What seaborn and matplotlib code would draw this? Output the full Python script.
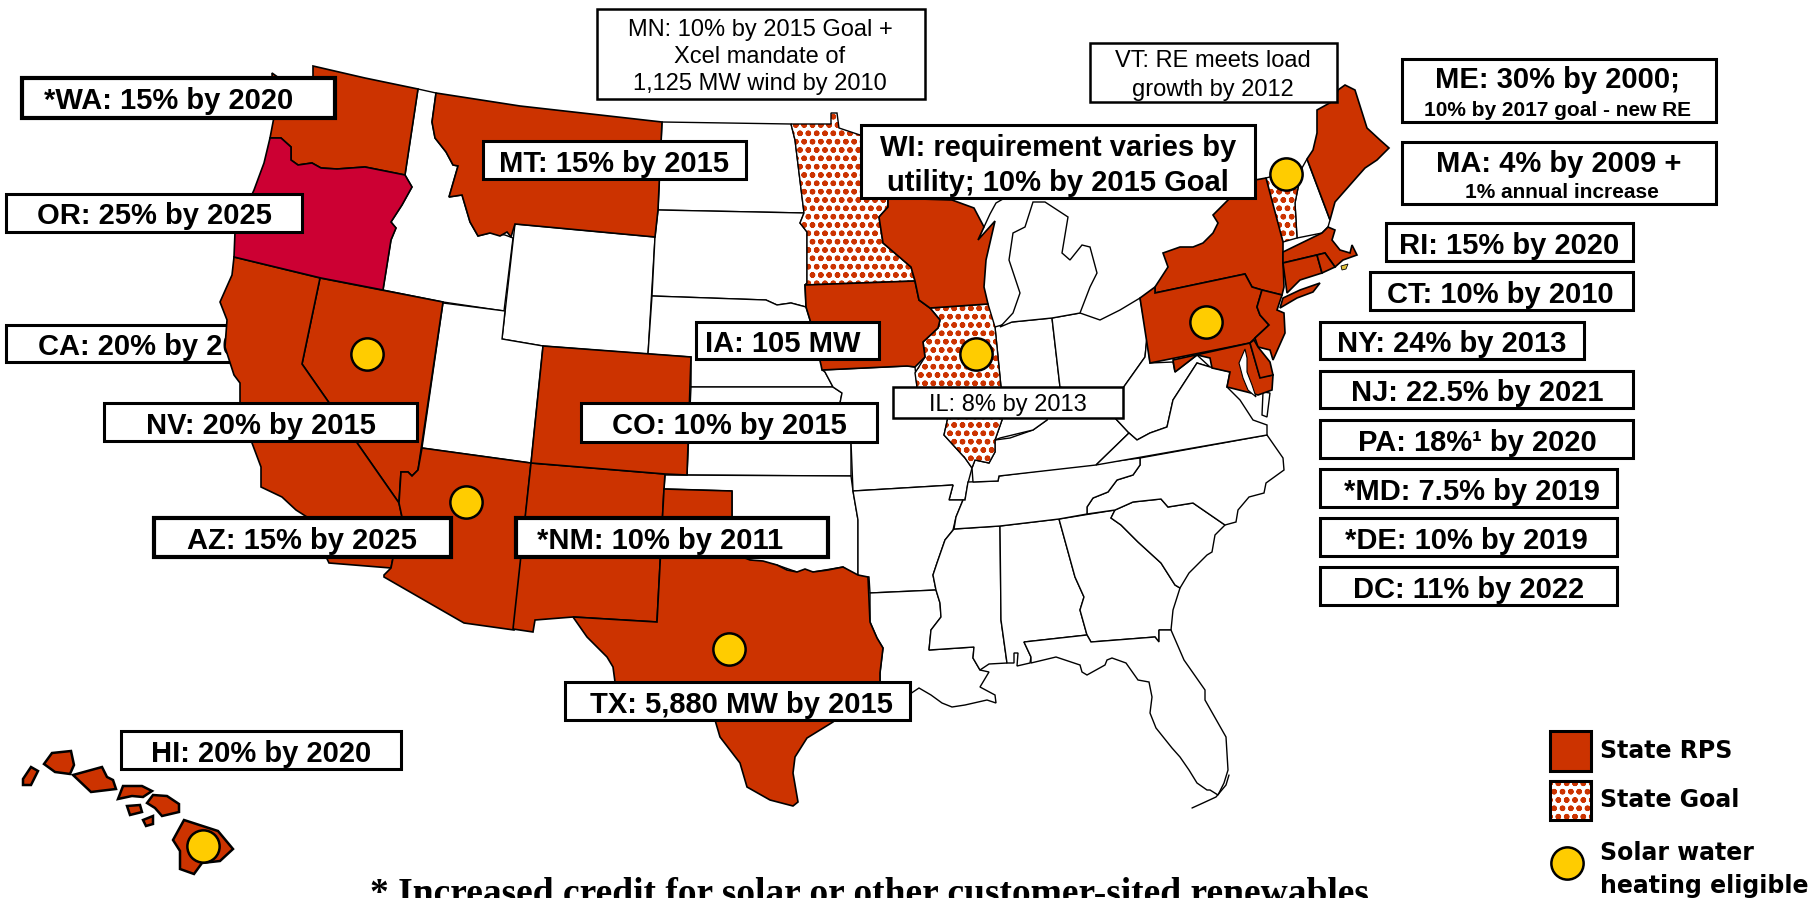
import matplotlib
matplotlib.use("Agg")
import matplotlib.pyplot as plt
import seaborn as sns

RED = "#CC3300"
CRIMSON = "#CC0033"
YELLOW = "#FFCC00"

# state outlines (pixels of the 1820x898 image)
WA = [(313,66),(365,78),(418,89),(405,175),(365,167),(337,169),(321,168),(312,163),(298,165),(291,160),(291,147),(281,138),(270,138),(274,117),(272,73),(279,78),(306,78),(313,77)]
OR = [(270,138),(281,138),(291,147),(291,160),(298,165),(312,163),(321,168),(337,169),(365,167),(405,175),(412,187),(402,205),(391,222),(396,228),(391,240),(383,290),(321,278),(234,257),(235,232),(254,190),(264,163)]
ID = [(418,89),(436,93),(432,122),(435,138),(446,152),(453,165),(458,166),(449,197),(462,195),(470,222),(478,236),(490,233),(505,235),(513,238),(504,311),(443,302),(383,290),(391,240),(396,228),(391,222),(402,205),(412,187),(405,175)]
MT = [(436,93),(520,106),(600,115),(662,122),(658,210),(655,237),(515,224),(511,237),(507,232),(500,236),(490,233),(478,236),(470,222),(462,195),(449,197),(458,166),(453,165),(446,152),(435,138),(432,122)]
WY = [(515,224),(655,237),(648,354),(543,346),(502,339)]
NV = [(320,278),(443,302),(418,470),(412,476),(408,472),(401,472),(399,503),(302,364)]
CA = [(234,257),(320,278),(302,364),(399,503),(402,517),(393,558),(391,568),(329,563),(307,517),(296,510),(282,497),(261,487),(261,467),(252,443),(240,403),(240,383),(234,375),(225,347),(227,320),(220,302),(232,275)]
UT = [(443,303),(505,311),(502,339),(543,346),(531,463),(422,448)]
AZ = [(422,448),(531,463),(514,630),(464,623),(384,577),(384,575),(391,568),(393,558),(402,517),(399,503),(401,472),(408,472),(412,476),(418,470)]
NM = [(531,463),(665,474),(664,489),(657,622),(573,617),(535,620),(533,632),(513,629)]
CO = [(543,346),(691,357),(687,475),(665,474),(531,463)]
TX = [(664,489),(732,491),(732,553),(750,560),(763,561),(777,565),(787,570),(797,572),(805,569),(813,572),(828,570),(843,567),(858,575),(868,577),(870,622),(877,638),(883,648),(880,673),(880,682),(833,722),(807,738),(795,757),(793,773),(798,802),(793,806),(770,800),(747,787),(740,763),(720,737),(715,720),(615,682),(613,667),(607,657),(587,637),(573,617),(657,622)]
ND = [(662,122),(791,124),(795,140),(804,213),(658,210)]
SD = [(658,210),(804,213),(800,223),(807,232),(807,283),(805,285),(806,307),(791,303),(777,305),(766,300),(652,296),(655,237)]
NE = [(652,296),(766,300),(777,305),(791,303),(806,307),(810,320),(822,365),(825,372),(833,387),(691,387),(691,357),(648,354)]
KS = [(691,387),(833,387),(842,393),(840,403),(851,442),(851,476),(687,475)]
OK = [(665,475),(851,476),(853,491),(858,520),(858,577),(843,567),(813,572),(797,572),(777,565),(750,560),(732,553),(732,491),(664,489)]
MN = [(791,124),(831,124),(831,113),(837,113),(839,128),(860,135),(888,160),(888,198),(888,207),(879,217),(883,243),(911,267),(915,281),(805,285),(807,283),(807,232),(800,223),(804,213),(795,140)]
IA = [(805,285),(915,281),(919,300),(930,308),(940,320),(938,328),(923,342),(925,357),(915,367),(907,366),(822,370),(821,365),(810,320),(806,307)]
WI = [(888,198),(952,200),(974,208),(984,227),(978,240),(995,221),(986,260),(984,287),(988,304),(930,308),(919,300),(915,281),(911,267),(883,243),(879,217),(888,207)]
IL = [(930,308),(988,304),(995,327),(1001,387),(1002,420),(995,440),(995,452),(989,463),(975,460),(972,468),(965,458),(944,435),(948,417),(935,405),(917,387),(915,373),(925,357),(923,342),(938,328),(940,320)]
MO = [(822,370),(907,366),(915,367),(917,387),(935,405),(948,417),(944,435),(965,458),(972,468),(968,483),(965,500),(949,500),(953,485),(853,491),(851,442),(840,403),(842,393),(833,387),(825,372)]
AR = [(853,491),(953,485),(949,500),(963,500),(956,517),(953,530),(945,540),(937,563),(933,575),(936,590),(870,593),(869,577),(858,577),(858,520)]
LA = [(870,593),(936,590),(940,603),(941,617),(931,630),(929,650),(974,647),(973,658),(980,670),(989,672),(980,687),(995,695),(996,703),(987,700),(965,705),(952,707),(942,703),(931,695),(919,688),(910,694),(880,690),(880,673),(883,648),(877,638),(870,622)]
MS = [(954,529),(1000,526),(1001,620),(1007,663),(989,664),(980,670),(973,658),(974,647),(929,650),(931,630),(941,617),(940,603),(936,590),(933,575),(937,563),(945,540)]
AL = [(1000,526),(1059,519),(1075,577),(1084,597),(1080,610),(1087,635),(1024,642),(1031,657),(1030,663),(1017,666),(1018,653),(1014,653),(1014,663),(1007,663),(1001,620)]
GA = [(1059,519),(1115,510),(1111,518),(1121,525),(1138,542),(1161,563),(1175,585),(1180,588),(1173,610),(1171,630),(1159,630),(1159,642),(1155,637),(1091,642),(1087,635),(1080,610),(1084,597),(1075,577)]
FL = [(1024,642),(1087,635),(1091,642),(1155,637),(1159,642),(1159,630),(1171,630),(1184,660),(1205,690),(1205,700),(1226,737),(1228,770),(1224,783),(1218,795),(1210,790),(1207,790),(1197,783),(1189,770),(1180,757),(1172,748),(1156,728),(1150,713),(1152,697),(1149,682),(1138,680),(1126,663),(1112,658),(1107,660),(1105,665),(1087,675),(1082,672),(1080,665),(1056,657),(1031,663),(1031,657)]
FL_KEYS = [(1192,808),(1203,803),(1216,797),(1226,785),(1229,775)]
SC = [(1115,510),(1133,502),(1161,499),(1168,507),(1193,503),(1225,525),(1215,535),(1212,552),(1207,555),(1189,573),(1180,588),(1175,585),(1161,563),(1138,542),(1121,525),(1111,518)]
NC = [(1087,514),(1115,510),(1133,502),(1161,499),(1168,507),(1193,503),(1225,525),(1236,522),(1238,510),(1249,497),(1264,493),(1266,483),(1284,470),(1283,458),(1267,435),(1140,458),(1140,465),(1133,475),(1117,480),(1108,492),(1093,498),(1087,507)]
TN = [(968,482),(998,481),(999,476),(1140,458),(1140,465),(1133,475),(1117,480),(1108,492),(1093,498),(1087,507),(1087,514),(1059,519),(1000,526),(954,529),(956,517),(963,500),(965,500)]
KY = [(973,482),(972,468),(975,460),(989,463),(995,452),(995,440),(1010,438),(1033,430),(1047,420),(1060,387),(1090,395),(1115,418),(1129,433),(1096,465),(999,476),(998,481)]
IN_ = [(995,327),(1012,322),(1052,318),(1060,387),(1047,420),(1033,430),(1000,438),(995,440),(1002,420),(1001,387)]
OH = [(1052,318),(1080,313),(1100,320),(1120,310),(1140,298),(1147,337),(1145,357),(1123,388),(1115,418),(1090,395),(1060,387)]
WV = [(1147,337),(1150,363),(1173,362),(1175,372),(1197,355),(1210,367),(1197,363),(1173,400),(1167,427),(1150,433),(1137,440),(1129,433),(1115,418),(1123,388),(1145,357)]
VA = [(1096,465),(1129,433),(1137,440),(1150,433),(1167,427),(1173,400),(1197,363),(1210,367),(1230,372),(1227,387),(1240,400),(1253,420),(1267,425),(1267,435)]
VA_SHORE = [(1263,392),(1270,393),(1267,417),(1262,415)]
MI = [(1000,327),(1012,322),(1052,318),(1080,313),(1090,287),(1097,273),(1090,247),(1082,245),(1070,260),(1062,253),(1068,217),(1045,202),(1033,202),(1025,227),(1013,233),(1009,260),(1020,293),(1013,313)]
MI_UPPER = [(984,227),(990,214),(996,203),(1010,195),(1040,195)]
NY = [(1155,293),(1245,274),(1252,287),(1262,290),(1282,295),(1284,287),(1283,262),(1283,242),(1266,178),(1255,180),(1230,198),(1213,215),(1218,223),(1213,233),(1203,243),(1193,247),(1180,247),(1163,253),(1168,267),(1155,287)]
LONG_ISLAND = [(1283,298),(1300,290),(1320,283),(1313,292),(1297,298),(1280,308)]
PA = [(1140,298),(1155,287),(1155,293),(1245,274),(1252,287),(1262,290),(1257,307),(1260,315),(1269,325),(1255,338),(1250,343),(1150,363)]
NJ = [(1262,290),(1282,295),(1277,310),(1284,313),(1285,333),(1273,360),(1270,350),(1258,347),(1255,338),(1269,325),(1260,315),(1257,307)]
MD = [(1173,360),(1250,343),(1260,377),(1273,375),(1272,390),(1258,395),(1247,392),(1227,387),(1230,372),(1212,368),(1210,358),(1197,355),(1175,372)]
MD_BAY = [(1245,349),(1239,363),(1243,378),(1248,390),(1256,397),(1252,385),(1247,372),(1247,358)]
DE = [(1250,343),(1254,340),(1258,347),(1270,362),(1273,375),(1260,378)]
MA = [(1283,252),(1322,233),(1328,227),(1335,230),(1332,240),(1340,250),(1350,253),(1352,245),(1357,255),(1343,260),(1335,267),(1325,253),(1283,263)]
CT = [(1283,263),(1317,255),(1322,273),(1300,280),(1287,293)]
RI = [(1317,255),(1325,253),(1335,267),(1322,273)]
VT = [(1266,178),(1302,168),(1295,203),(1297,238),(1283,242),(1278,227),(1273,210)]
NH = [(1302,168),(1307,159),(1330,220),(1328,227),(1322,233),(1297,238),(1295,203)]
ME = [(1338,90),(1345,85),(1355,90),(1367,128),(1380,140),(1389,148),(1377,160),(1365,168),(1357,177),(1335,202),(1330,220),(1307,159),(1313,150),(1317,133),(1317,110),(1335,100)]
VINEYARD = [(1341,266),(1348,264),(1346,269),(1342,270)]
HI_ISLANDS = [
    [(31,767),(38,771),(31,785),(23,785),(23,779)],
    [(52,753),(71,751),(74,765),(70,774),(55,772),(44,764)],
    [(73,775),(102,767),(107,777),(113,780),(116,789),(91,792)],
    [(123,786),(142,786),(152,791),(143,797),(132,796),(118,799)],
    [(153,795),(167,796),(179,804),(179,812),(162,816),(155,808),(147,803)],
    [(127,806),(140,805),(142,812),(130,815)],
    [(143,820),(153,816),(153,824),(146,826)],
    [(184,820),(218,831),(233,849),(220,861),(202,863),(194,874),(180,869),(180,851),(173,840)],
]

white_states = [ID, WY, UT, ND, SD, NE, KS, OK, MO, AR, LA, MS, AL, GA, FL, SC, NC, TN, KY, IN_, OH, WV, VA, VA_SHORE, MI, NH]
rps_states = [WA, MT, NV, CA, AZ, NM, CO, TX, IA, WI, NY, LONG_ISLAND, PA, NJ, MD, DE, MA, CT, RI, ME]
goal_states = [MN, IL, VT]

solar_x = [367, 466, 729, 976, 1206, 1286, 203, 1567]
solar_y = [354, 502, 649, 354, 322, 174, 846, 863]

sns.set_theme(style="white")
plt.rcParams['font.family'] = ['Liberation Sans', 'DejaVu Sans']
plt.rcParams['hatch.linewidth'] = 1.6

fig = plt.figure(figsize=(18.2, 8.98), dpi=100)
ax = fig.add_axes([0, 0, 1, 1])
ax.set_xlim(0, 1820)
ax.set_ylim(898, 0)
ax.axis('off')


def box(x0, y0, x1, y1, lw=2.2, z=6):
    ax.fill([x0, x1, x1, x0], [y0, y0, y1, y1], facecolor='white', edgecolor='black', linewidth=lw, zorder=z)


def word(x, y, s, size=21, weight='bold', ha='center', z=7):
    ax.text(x, y + 3, s, fontsize=size, fontweight=weight, ha=ha, va='center', color='black', zorder=z)


# CA label sits behind the state
box(6, 325, 300, 362, z=1)
word(38, 344, 'CA: 20% by 2010', ha='left', z=1.5)

for pts in white_states:
    ax.fill(*zip(*pts), facecolor='white', edgecolor='black', linewidth=1.0, zorder=2)
ax.plot(*zip(*MI_UPPER), color='black', linewidth=1.0, zorder=2)
ax.plot(*zip(*FL_KEYS), color='black', linewidth=1.0, zorder=2)

for pts in goal_states:
    ax.fill(*zip(*pts), facecolor='white', edgecolor=RED, hatch='oo', linewidth=0, zorder=2.5)
    ax.fill(*zip(*pts), facecolor='none', edgecolor='black', linewidth=1.0, zorder=2.6)

for pts in rps_states:
    ax.fill(*zip(*pts), facecolor=RED, edgecolor='black', linewidth=1.2, zorder=3)
ax.fill(*zip(*MD_BAY), facecolor='white', edgecolor='black', linewidth=0.8, zorder=3.1)
ax.fill(*zip(*OR), facecolor=CRIMSON, edgecolor='black', linewidth=1.2, zorder=3)
ax.fill(*zip(*VINEYARD), facecolor='#E3C23C', edgecolor='black', linewidth=0.6, zorder=3.1)
for pts in HI_ISLANDS:
    ax.fill(*zip(*pts), facecolor=RED, edgecolor='black', linewidth=1.8, zorder=3)

sns.scatterplot(x=solar_x, y=solar_y, s=540, color=YELLOW, edgecolor='black', linewidth=1.8, ax=ax, zorder=8, legend=False)

box(22, 78, 335, 118, lw=3)
word(169, 98, '*WA: 15% by 2020')
box(6, 194, 302, 232)
word(154, 213, 'OR: 25% by 2025')
box(483, 141, 746, 179)
word(614, 161, 'MT: 15% by 2015')
box(104, 403, 417, 441)
word(261, 423, 'NV: 20% by 2015')
box(154, 518, 451, 557, lw=3)
word(302, 538, 'AZ: 15% by 2025')
box(516, 518, 828, 557, lw=3)
word(660, 538, '*NM: 10% by 2011')
box(581, 403, 877, 442)
word(729, 423, 'CO: 10% by 2015')
box(696, 322, 879, 359)
word(783, 341, 'IA: 105 MW')
box(121, 731, 401, 769)
word(261, 751, 'HI: 20% by 2020')
box(565, 682, 910, 720)
word(741, 702, 'TX: 5,880 MW by 2015')
box(861, 125, 1255, 198)
word(1058, 145, 'WI: requirement varies by')
word(1058, 180, 'utility; 10% by 2015 Goal')

box(893, 387, 1123, 418, lw=1.8)
word(1008, 402, 'IL: 8% by 2013', size=17, weight='normal')
box(597, 9, 925, 99, lw=1.8)
word(760, 27, 'MN: 10% by 2015 Goal +', size=17, weight='normal')
word(760, 54, 'Xcel mandate of', size=17, weight='normal')
word(760, 81, '1,125 MW wind by 2010', size=17, weight='normal')
box(1090, 43, 1337, 102, lw=1.8)
word(1213, 58, 'VT: RE meets load', size=17, weight='normal')
word(1213, 87, 'growth by 2012', size=17, weight='normal')

box(1402, 59, 1716, 122)
word(1557, 77, 'ME: 30% by 2000;')
word(1557, 107, '10% by 2017 goal - new RE', size=15)
box(1402, 142, 1716, 204)
word(1559, 161, 'MA: 4% by 2009 +')
word(1562, 189, '1% annual increase', size=15)
box(1386, 223, 1633, 261)
word(1509, 243, 'RI: 15% by 2020')
box(1370, 272, 1633, 310)
word(1500, 292, 'CT: 10% by 2010')
box(1320, 322, 1584, 359)
word(1452, 341, 'NY: 24% by 2013')
box(1320, 371, 1633, 408)
word(1477, 390, 'NJ: 22.5% by 2021')
box(1320, 420, 1633, 458)
word(1477, 440, 'PA: 18%¹ by 2020')
box(1320, 469, 1617, 507)
word(1472, 489, '*MD: 7.5% by 2019')
box(1320, 518, 1617, 556)
word(1466, 538, '*DE: 10% by 2019')
box(1320, 567, 1617, 605)
word(1469, 587, 'DC: 11% by 2022')

# legend
ax.fill([1550, 1591, 1591, 1550], [731, 731, 771, 771], facecolor=RED, edgecolor='black', linewidth=2.2, zorder=5)
ax.fill([1550, 1591, 1591, 1550], [781, 781, 820, 820], facecolor='white', edgecolor=RED, hatch='oo', linewidth=0, zorder=5)
ax.fill([1550, 1591, 1591, 1550], [781, 781, 820, 820], facecolor='none', edgecolor='black', linewidth=2.2, zorder=5.1)
for y, s in zip([751, 800, 853, 886], ['State RPS', 'State Goal', 'Solar water', 'heating eligible']):
    ax.text(1600, y, s, fontsize=17, fontweight='bold', family='DejaVu Sans', ha='left', va='center', color='black')

ax.text(869, 895, '* Increased credit for solar or other customer-sited renewables', fontsize=27, fontweight='bold',
        family='Liberation Serif', ha='center', va='center', color='black')

fig.savefig('out.png', dpi=100)
